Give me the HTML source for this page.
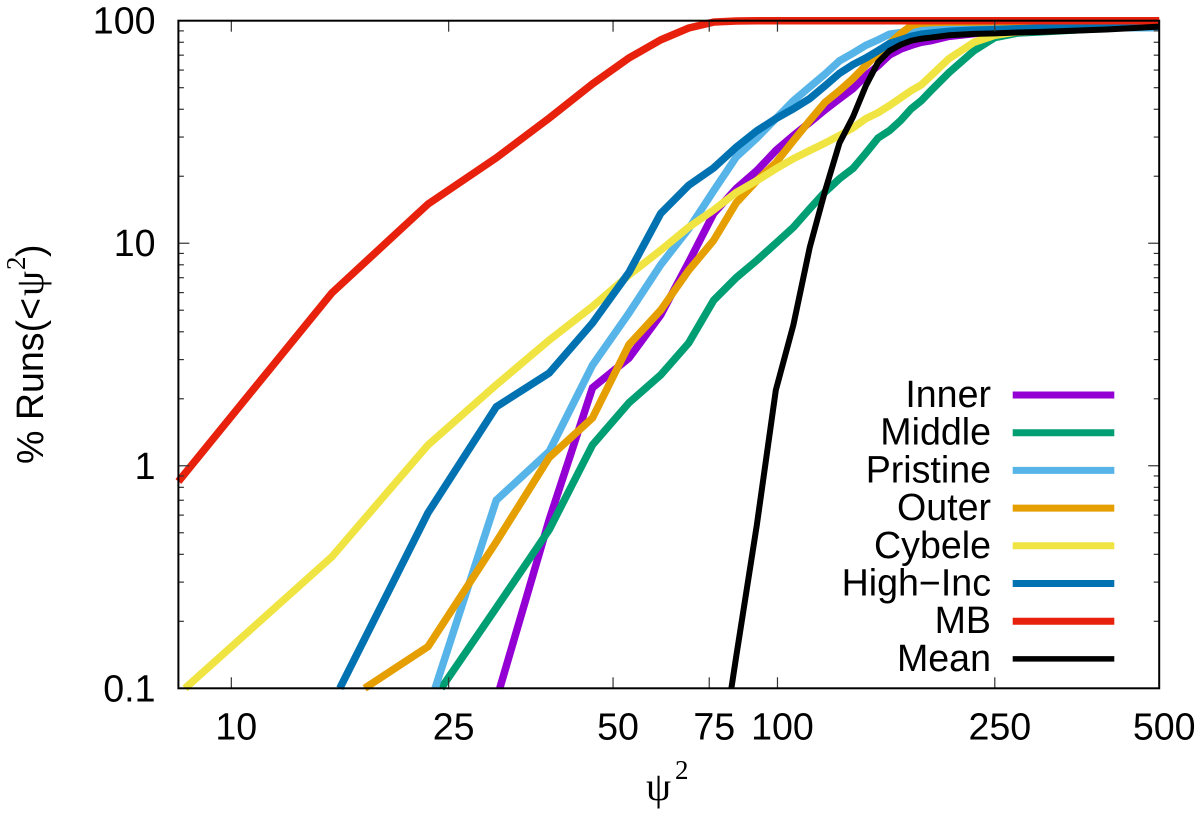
<!DOCTYPE html>
<html lang="en">
<head>
<meta charset="utf-8">
<title>Cumulative percentage of runs versus psi squared</title>
<style>
html,body{margin:0;padding:0;background:#fff;}
svg{display:block;}
text{font-family:"Liberation Sans",sans-serif;fill:#000;}
.serif{font-family:"Liberation Serif",serif;}
</style>
</head>
<body>
<svg id="chart" xmlns="http://www.w3.org/2000/svg" width="1200" height="813" viewBox="0 0 1200 813">
  <rect x="0" y="0" width="1200" height="813" fill="#fff"/>
  <g id="series-layer"></g>
  <g id="tick-layer"></g>
  <rect x="178.4" y="20.7" width="980.8" height="667.6" fill="none" stroke="#000" stroke-width="2"/>
  <g id="label-layer" font-size="37.6"></g>
  <g id="legend-layer" font-size="37.6"></g>
  <g>
    <text class="serif" x="646" y="800" font-size="40">ψ</text>
    <text class="serif" x="675" y="779" font-size="27">2</text>
  </g>
  <g transform="translate(43,464) rotate(-90)">
    <text x="0" y="0" font-size="37.6">% Runs(&lt;</text>
    <text class="serif" x="168" y="0" font-size="40">ψ</text>
    <text class="serif" x="194" y="-18" font-size="27">2</text>
    <text x="207" y="0" font-size="37.6">)</text>
  </g>
</svg>
<script>
var psi2 = [7.64,15.28,22.92,30.56,38.2,45.84,53.48,61.12,68.76,76.4,84.04,91.68,99.32,106.96,114.6,122.24,129.88,137.52,145.16,152.8,160.44,168.08,175.72,183.36,191,206,229,250,275,300,400,500];
var inner = [null,null,null,.0885,.572,2.24,3.05,4.76,8.2,13.6,17.6,21.2,26.1,30.5,34.9,39.8,44.6,49.5,56.6,62.7,70.2,74.5,77.5,80,81.3,85,87.5,89.6,91.3,92,94,96];
var middle = [null,null,.082,.23,.516,1.24,1.92,2.56,3.56,5.54,7,8.38,10,11.8,14.3,17,19.5,21.7,25.4,29.7,32.1,35.6,40.2,43.7,48.5,58.4,73.3,84,88,89,92.5,95];
var pristine = [null,null,.08,.70,1.16,2.83,4.86,8,11.6,17.2,24.4,29.7,36.3,43.7,50.4,57.6,66,71.5,77.5,82,87,88.4,90.2,90.7,91.1,91.6,92,92,92.5,92.5,93,93];
var outer = [null,.08,.154,.455,1.09,1.64,3.5,5,7.55,10.3,15.2,19.1,23,28.9,35.6,43,48.5,55,63,71.5,79,87.5,95,97.5,98,98.5,98.7,99,99,99.5,99.7,100];
var cybele = [.085,.39,1.24,2.31,3.67,5.2,7.2,9.3,11.8,14.1,16.9,19.1,21.6,24,26.1,28.2,30.5,33,36.3,38.6,41.6,45,48.5,51.5,56.6,67.5,80,86,89,90,92.5,95];
var highInc = [null,.085,.615,1.84,2.61,4.38,7.4,13.6,18.2,21.8,27,32,36.3,40.2,44.7,51,58,63.5,68,73.3,79,82,85,87,88,89.6,90.7,91.2,92,92.5,93.5,94.5];
var mb = [.74,5.98,15,24.2,36.5,52,68,82,92.7,98.6,99.7,100,100,100,100,100,100,100,100,100,100,100,100,100,100,100,100,100,100,100,100,100];
var mean = [null,null,null,null,null,null,null,null,null,.03,.139,.543,2.19,4.3,9.6,17.2,28.2,37,51,65,73.3,78,81.3,83,84,86,87.3,87.7,88.5,89,91.3,94];
var xTickValues = [10,25,50,75,100,250,500];
var xTickLabels = ["10","25","50","75","100","250","500"];
var yTickValues = [0.1,1,10,100];
var yTickLabels = ["0.1","1","10","100"];
var seriesNames = ["Inner","Middle","Pristine","Outer","Cybele","High\u2212Inc","MB","Mean"];
var seriesValues = [inner,middle,pristine,outer,cybele,highInc,mb,mean];
var seriesColors = ["#9400d3","#009e73","#56b4e9","#e69f00","#f0e442","#0072b2","#e8210d","#000000"];

var NS = "http://www.w3.org/2000/svg";
var plot = {left:178.4,right:1159.2,top:20.7,bottom:688.3};
var xMin = 8, xMax = 500, yMin = 0.1, yMax = 100;

function xScale(v){
  return plot.left + (Math.log10(v) - Math.log10(xMin)) / (Math.log10(xMax) - Math.log10(xMin)) * (plot.right - plot.left);
}
function yScale(v){
  return plot.bottom - (Math.log10(v) - Math.log10(yMin)) / (Math.log10(yMax) - Math.log10(yMin)) * (plot.bottom - plot.top);
}
function mk(tag, attrs, parent){
  var el = document.createElementNS(NS, tag);
  for (var k in attrs) { el.setAttribute(k, attrs[k]); }
  parent.appendChild(el);
  return el;
}
function clipSeg(x0, y0, x1, y1){
  var t0 = 0, t1 = 1, dx = x1 - x0, dy = y1 - y0;
  var p = [-dx, dx, -dy, dy];
  var q = [x0 - plot.left, plot.right - x0, y0 - plot.top, plot.bottom - y0];
  for (var i = 0; i < 4; i++) {
    if (p[i] === 0) {
      if (q[i] < -0.0001) { return null; }
    } else {
      var r = q[i] / p[i];
      if (p[i] < 0) { t0 = Math.max(t0, r); } else { t1 = Math.min(t1, r); }
    }
  }
  if (t0 > t1) { return null; }
  return [x0 + t0 * dx, y0 + t0 * dy, x0 + t1 * dx, y0 + t1 * dy];
}
function buildPath(values){
  var d = "", lastX = null, lastY = null, prev = null;
  for (var i = 0; i < psi2.length; i++) {
    if (values[i] === null) { prev = null; continue; }
    var px = xScale(psi2[i]), py = yScale(values[i]);
    if (prev) {
      var s = clipSeg(prev[0], prev[1], px, py);
      if (s) {
        if (lastX === null || Math.abs(lastX - s[0]) > 0.01 || Math.abs(lastY - s[1]) > 0.01) {
          d += "M" + s[0].toFixed(2) + " " + s[1].toFixed(2);
        }
        d += "L" + s[2].toFixed(2) + " " + s[3].toFixed(2);
        lastX = s[2]; lastY = s[3];
      }
    }
    prev = [px, py];
  }
  return d;
}

var seriesLayer = document.getElementById("series-layer");
seriesNames.forEach(function(name, i){
  var line = mk("path", {d: buildPath(seriesValues[i]), fill: "none", stroke: seriesColors[i], "stroke-width": i === 7 ? 6 : 7.5, "stroke-linejoin": "miter"}, seriesLayer);
  
  
});

var tickLayer = document.getElementById("tick-layer");
var tickStyle = "#333";
xTickValues.forEach(function(v){
  var x = xScale(v);
  var bottomTick = mk("line", {x1: x, x2: x, y1: plot.bottom, y2: plot.bottom - 11, stroke: tickStyle, "stroke-width": 1.2}, tickLayer);
  
  
  var topTick = mk("line", {x1: x, x2: x, y1: plot.top, y2: plot.top + 11, stroke: tickStyle, "stroke-width": 1.2}, tickLayer);
  
  
});
yTickValues.forEach(function(v, idx){
  var y = yScale(v);
  var leftTick = mk("line", {x1: plot.left, x2: plot.left + 11, y1: y, y2: y, stroke: tickStyle, "stroke-width": 1.2}, tickLayer);
  
  
  var rightTick = mk("line", {x1: plot.right, x2: plot.right - 11, y1: y, y2: y, stroke: tickStyle, "stroke-width": 1.2}, tickLayer);
  
  
  if (idx < yTickValues.length - 1) {
    for (var m = 2; m < 10; m++) {
      var ym = yScale(v * m);
      var minorLeft = mk("line", {x1: plot.left, x2: plot.left + 5.5, y1: ym, y2: ym, stroke: tickStyle, "stroke-width": 1.2}, tickLayer);
      
      
      var minorRight = mk("line", {x1: plot.right, x2: plot.right - 5.5, y1: ym, y2: ym, stroke: tickStyle, "stroke-width": 1.2}, tickLayer);
      
      
    }
  }
});

var labelLayer = document.getElementById("label-layer");
xTickValues.forEach(function(v, i){
  var t = mk("text", {x: xScale(v) + 5, y: 739.5, "text-anchor": "middle"}, labelLayer);
  t.textContent = xTickLabels[i];
  
  
});
yTickValues.forEach(function(v, i){
  var t = mk("text", {x: 155.5, y: yScale(v) + 13, "text-anchor": "end"}, labelLayer);
  t.textContent = yTickLabels[i];
  
  
});

var legendLayer = document.getElementById("legend-layer");
var legendTop = 395, legendStep = 37.7;
seriesNames.forEach(function(name, i){
  var ly = legendTop + i * legendStep;
  var t = mk("text", {x: 991, y: ly + 12, "text-anchor": "end"}, legendLayer);
  t.textContent = name;
  
  
  var sw = mk("line", {x1: 1012.7, x2: 1114.3, y1: ly, y2: ly, stroke: seriesColors[i], "stroke-width": i === 7 ? 5.5 : 7}, legendLayer);
  
  
});
</script>
</body>
</html>
